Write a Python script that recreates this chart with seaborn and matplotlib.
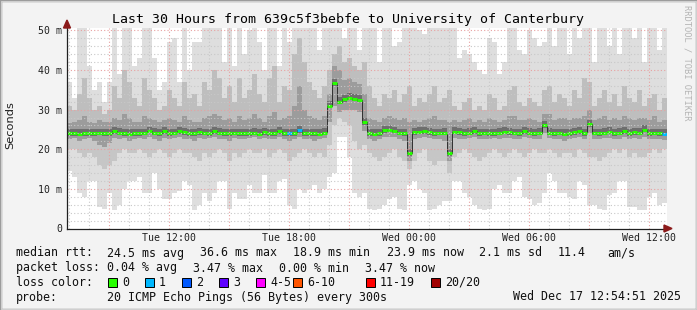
import datetime as dt
import numpy as np
import pandas as pd
import matplotlib
matplotlib.use("Agg")
import matplotlib.pyplot as plt
from matplotlib.patches import Rectangle, Polygon
import seaborn as sns

# ---------------- data (15-minute bins, 30 hours) ----------------
title = "Last 30 Hours from 639c5f3bebfe to University of Canterbury"
start_time = dt.datetime(2025, 12, 16, 6, 54, 51)
end_time = dt.datetime(2025, 12, 17, 12, 54, 51)
bin_minutes = 15

median = [24.0, 24.0, 23.9, 24.0, 24.0, 24.0, 24.1, 24.0, 24.0, 24.5, 24.2, 24.0, 23.9, 24.0, 24.0, 24.1, 24.6, 24.2, 24.0, 24.5, 24.0, 24.1, 24.5, 24.3,
          24.0, 24.0, 24.3, 24.1, 24.0, 24.5, 24.2, 24.0, 24.0, 24.1, 24.0, 24.0, 24.0, 24.2, 23.9, 24.3, 24.0, 24.0, 24.5, 24.0, 24.0, 24.0, 24.8, 24.0,
          24.0, 24.0, 23.9, 24.2, 31.0, 36.6, 32.0, 32.6, 33.0, 32.8, 32.5, 26.8, 24.0, 23.9, 24.0, 24.8, 24.9, 24.6, 24.1, 24.0, 19.0, 24.3, 24.4, 24.5,
          24.3, 24.0, 24.1, 24.2, 19.0, 24.4, 24.3, 24.0, 24.2, 24.5, 24.0, 24.1, 24.0, 24.0, 24.2, 24.4, 24.3, 24.1, 24.0, 24.5, 24.2, 24.0, 24.2, 26.0,
          24.2, 24.0, 24.1, 23.9, 24.0, 24.3, 24.5, 24.0, 26.3, 24.1, 24.0, 24.2, 24.4, 24.0, 24.2, 24.5, 24.0, 24.3, 24.2, 24.9, 24.0, 24.1, 24.0, 23.9]

loss = [0] * 44 + [1, 0, 1] + [0] * 72 + [1]

smoke_max = [37, 33, 52, 52, 41, 35, 37, 32, 37, 52, 39, 52, 52, 41, 43, 52, 52, 43, 35, 37, 47, 48, 37, 52,
             40, 47, 47, 52, 52, 52, 52, 42, 52, 41, 52, 44, 50, 52, 47, 40, 52, 52, 41, 52, 47, 52, 52, 52,
             52, 52, 45, 52, 52, 52, 52, 48, 52, 52, 45, 52, 52, 52, 42, 52, 52, 46, 47, 52, 52, 52, 50, 49,
             52, 52, 52, 52, 52, 52, 43, 45, 44, 42, 40, 39, 48, 47, 39, 42, 52, 52, 45, 44, 50, 48, 46, 47,
             52, 46, 52, 52, 44, 52, 48, 52, 52, 42, 52, 52, 46, 52, 44, 52, 52, 48, 52, 42, 52, 52, 45, 52]

smoke_high = [31, 30, 34, 38, 33, 30, 31, 29, 30, 36, 33, 40, 37, 33, 31, 38, 35, 33, 30, 31, 35, 33, 31, 37,
              33, 34, 31, 37, 35, 40, 38, 33, 36, 32, 38, 33, 35, 39, 34, 32, 38, 41, 32, 36, 35, 44, 48, 42,
              37, 35, 33, 36, 40, 44, 46, 42, 43, 41, 40, 42, 36, 33, 31, 34, 33, 35, 32, 34, 36, 31, 33, 32,
              34, 36, 32, 33, 35, 31, 30, 32, 33, 30, 31, 30, 34, 33, 30, 31, 35, 36, 32, 31, 33, 32, 31, 35,
              36, 32, 34, 33, 31, 35, 33, 38, 37, 31, 33, 35, 32, 34, 31, 36, 33, 32, 35, 31, 33, 34, 30, 33]

core_high = [26.5, 27.0, 27.5, 28.5, 27.0, 26.5, 27.5, 27.0, 27.0, 28.0, 27.5, 29.0, 28.0, 27.0, 27.0, 28.5, 28.0, 27.5, 27.0, 27.5, 28.0, 27.5, 27.0, 28.5,
             27.5, 27.0, 27.0, 28.0, 28.5, 29.0, 28.5, 27.5, 28.0, 27.0, 28.5, 27.5, 28.0, 29.0, 28.0, 27.0, 28.5, 29.5, 27.5, 28.0, 28.5, 31.0, 36.0, 30.0,
             28.5, 28.0, 27.5, 28.5, 34.0, 41.0, 40.0, 37.5, 38.0, 37.0, 36.5, 34.0, 28.0, 27.5, 27.0, 28.0, 28.5, 28.0, 27.5, 28.0, 27.0, 27.5, 27.0, 27.5,
             28.0, 28.5, 27.5, 27.5, 27.0, 27.5, 27.0, 27.5, 28.0, 27.0, 27.5, 27.0, 28.0, 27.5, 27.0, 27.5, 28.5, 28.5, 27.5, 27.5, 28.0, 27.5, 27.0, 29.0,
             29.0, 27.5, 28.0, 28.0, 27.5, 28.0, 28.0, 28.5, 30.0, 27.5, 28.0, 28.5, 27.5, 28.0, 27.5, 28.5, 28.0, 27.5, 28.0, 28.0, 27.5, 28.5, 27.0, 27.5]

core_low = [22.5, 22.8, 22.0, 22.5, 22.8, 22.0, 21.0, 20.5, 21.5, 22.8, 22.5, 22.8, 22.0, 22.5, 22.8, 22.5, 23.0, 22.5, 22.0, 22.8, 22.5, 22.8, 23.0, 22.6,
            22.6, 22.0, 22.8, 22.5, 22.8, 23.0, 22.6, 22.5, 22.0, 22.8, 22.5, 22.6, 22.8, 23.0, 22.5, 22.8, 22.6, 22.5, 23.0, 22.6, 22.0, 22.5, 23.0, 22.5,
            22.5, 22.0, 22.6, 22.8, 27.0, 31.0, 29.5, 30.0, 29.8, 30.0, 29.5, 24.5, 22.5, 22.0, 22.5, 23.0, 23.2, 23.0, 22.6, 22.0, 17.0, 22.5, 22.8, 23.0,
            22.8, 22.5, 22.6, 22.0, 17.0, 22.8, 22.6, 22.5, 22.8, 23.0, 22.5, 22.6, 22.5, 22.8, 22.6, 22.8, 22.8, 22.5, 22.6, 23.0, 22.8, 22.5, 22.6, 24.0,
            22.8, 22.5, 22.6, 22.0, 22.5, 22.8, 23.0, 22.5, 24.0, 22.6, 22.5, 22.8, 22.8, 22.5, 22.6, 23.0, 22.5, 22.8, 22.6, 23.2, 22.5, 22.6, 22.5, 22.4]

smoke_low = [20, 20, 19, 18, 19, 18, 16, 15, 16, 17, 19, 20, 19, 19, 20, 19, 18, 19, 20, 19, 18, 19, 20, 19,
             19, 18, 17, 19, 18, 19, 20, 19, 17, 19, 18, 19, 20, 19, 19, 20, 18, 19, 20, 19, 17, 18, 19, 20,
             19, 18, 19, 18, 21, 26, 28, 27, 26, 22, 20, 21, 19, 18, 17, 18, 19, 20, 18, 17, 15, 17, 19, 20,
             17, 16, 17, 17, 14, 18, 19, 20, 19, 18, 17, 18, 19, 20, 19, 18, 19, 20, 19, 18, 19, 20, 19, 19,
             20, 19, 18, 19, 19, 18, 20, 19, 18, 18, 17, 18, 19, 20, 19, 20, 18, 19, 18, 18, 19, 20, 19, 20]

smoke_min = [14.5, 13, 9, 8, 12, 12, 5.5, 5, 9, 4.6, 6, 10, 12, 12, 13, 9, 9, 14, 10, 7.5, 7.5, 9, 9.5, 12,
             11, 4.7, 6, 9, 7, 9, 12, 12, 5, 9, 7.5, 7.5, 11, 9, 9, 13.5, 9, 9, 12, 12.5, 6, 5, 10, 9,
             10, 11, 9, 10, 13, 14, 23, 23, 18, 9, 8, 9, 5, 4.7, 5, 6, 7.5, 8, 5, 4.7, 11, 12, 10, 9,
             4.7, 5, 6, 7, 7, 12, 12, 9, 8, 6, 5, 4.7, 5, 10, 11, 9, 9, 12, 13, 8, 7.5, 6, 6.5, 9,
             14, 12, 9, 9, 8, 7.5, 12, 11, 6, 6, 4.8, 4.6, 8.5, 9, 12, 12, 5.5, 5.5, 4.6, 4.7, 8, 9, 6, 6.5]

tick_times = [dt.datetime(2025, 12, 16, 12), dt.datetime(2025, 12, 16, 18),
              dt.datetime(2025, 12, 17, 0), dt.datetime(2025, 12, 17, 6),
              dt.datetime(2025, 12, 17, 12)]
tick_labels = ["Tue 12:00", "Tue 18:00", "Wed 00:00", "Wed 06:00", "Wed 12:00"]
y_ticks = [0, 10, 20, 30, 40, 50]
y_tick_labels = ["0", "10 m", "20 m", "30 m", "40 m", "50 m"]

loss_labels = ["0", "1", "2", "3", "4-5", "6-10", "11-19", "20/20"]
loss_colors = ["#26ff00", "#00b8ff", "#0059ff", "#5e00ff", "#ff00ff", "#ff5500", "#ff0000", "#a10000"]

stats_rtt = ["24.5 ms avg", "36.6 ms max", "18.9 ms min", "23.9 ms now", "2.1 ms sd", "11.4", "am/s"]
stats_loss = ["0.04 % avg", "3.47 % max", "0.00 % min", "3.47 % now"]
probe_text = "20 ICMP Echo Pings (56 Bytes) every 300s"
stamp_text = "Wed Dec 17 12:54:51 2025"

# ---------------- figure ----------------
sns.set_style("white")
W, H = 697, 310
fig = plt.figure(figsize=(W / 100, H / 100), dpi=100)
fig.patch.set_facecolor("#f3f3f3")
mono = "DejaVu Sans Mono"

def fx(px):
    return px / W

def fy(py):
    return 1 - py / H

# frame (3D look)
fig.patches.append(Rectangle((0, 0), 1, 1, transform=fig.transFigure, fill=False,
                             edgecolor="#9a9a9a", lw=2.5, zorder=0))
fig.patches.append(Rectangle((fx(1), fy(309)), fx(695), 308 / H, transform=fig.transFigure,
                             fill=False, edgecolor="#cfcfcf", lw=0.8, zorder=0))

ax_left, ax_right, ax_bot, ax_top = 67, 667, 228.5, 28
ax = fig.add_axes([fx(ax_left), fy(ax_bot), fx(ax_right - ax_left), (ax_bot - ax_top) / H])
ax.set_facecolor("white")

total_h = (end_time - start_time).total_seconds() / 3600.0
n = len(median)
edges = np.arange(n + 1) * bin_minutes / 60.0

def ext(a):
    a = list(a)
    return np.array(a + [a[-1]])

layers = [
    (smoke_min, smoke_low, "#dedede"),
    (smoke_high, smoke_max, "#dedede"),
    (smoke_low, core_low, "#c6c6c6"),
    (core_high, smoke_high, "#bebebe"),
    (core_low, core_high, "#9c9c9c"),
]
for lo, hi, col in layers:
    ax.fill_between(edges, ext(lo), ext(hi), step="post", color=col, lw=0, zorder=1)

# darker core just around the median
ax.fill_between(edges, ext(median) - 0.6, ext(median) + 1.1, step="post", color="#6e6e6e", lw=0, zorder=1.2)

# median: thin dark step line + loss-coloured segments
df = pd.DataFrame({"t": edges, "rtt": ext(median)})
sns.lineplot(data=df, x="t", y="rtt", drawstyle="steps-post", color="#303030", lw=0.7,
             ax=ax, zorder=3, legend=False)
for i in range(n):
    ax.hlines(median[i], edges[i], edges[i + 1], colors=loss_colors[loss[i]], lw=2.2, zorder=4)

ax.set_xlim(0, total_h)
ax.set_ylim(0, 50.6)

# grid
tick_h = [(t - start_time).total_seconds() / 3600.0 for t in tick_times]
first_hour = dt.datetime(2025, 12, 16, 7)
for k in range(0, 31):
    h = (first_hour - start_time).total_seconds() / 3600.0 + k
    if h >= total_h:
        break
    hr = (first_hour + dt.timedelta(hours=k)).hour
    major = hr % 3 == 0
    ax.axvline(h, color="#e8a0a0" if major else "#c8c8c8", lw=0.8,
               ls=(0, (1, 2)), zorder=5)
for v in np.arange(2, 51, 2):
    major = v % 10 == 0
    ax.axhline(v, color="#e8a0a0" if major else "#c8c8c8", lw=0.8,
               ls=(0, (1, 2)), zorder=5)

for s in ["top", "right"]:
    ax.spines[s].set_visible(False)
for s in ["left", "bottom"]:
    ax.spines[s].set_color("#202020")
    ax.spines[s].set_linewidth(0.9)
    ax.spines[s].set_zorder(6)

ax.set_xticks(tick_h)
ax.set_xticklabels(tick_labels, fontsize=7.1, family=mono, color="#202020")
ax.set_yticks(y_ticks)
ax.set_yticklabels(y_tick_labels, fontsize=7.1, family=mono, color="#202020")
ax.set_yticks(np.arange(2, 50, 2), minor=True)
ax.set_xticks([(first_hour - start_time).total_seconds() / 3600.0 + k for k in range(30)], minor=True)
ax.tick_params(axis="both", which="major", length=3, width=0.8, color="#404040", pad=2, direction="inout")
ax.tick_params(axis="both", which="minor", length=2, width=0.6, color="#808080", direction="out")
ax.set_xlabel("")
ax.set_ylabel("")

# arrows
fig.patches.append(Polygon([[fx(664), fy(225)], [fx(664), fy(232)], [fx(672), fy(228.5)]],
                           closed=True, transform=fig.transFigure, color="#8b1a1a", zorder=10))
fig.lines.append(plt.Line2D([fx(667), fx(665)], [fy(228.5), fy(228.5)], transform=fig.transFigure,
                            color="#202020", lw=0.9))
fig.patches.append(Polygon([[fx(63.5), fy(28)], [fx(70.5), fy(28)], [fx(67), fy(20)]],
                           closed=True, transform=fig.transFigure, color="#8b1a1a", zorder=10))

# texts
fig.text(fx(348), fy(19), title, ha="center", va="center", fontsize=9.5, family=mono, color="#000000")
fig.text(fx(10.5), fy(125), "Seconds", rotation=90, ha="center", va="center", fontsize=8.2,
         family="DejaVu Sans", color="#202020")
fig.text(fx(687), fy(5), "RRDTOOL / TOBI OETIKER", rotation=-90, ha="center", va="top",
         fontsize=6.3, family=mono, color="#b4b4b4")

fs = 8.4
tc = "#101010"
y1, y2, y3, y4 = 253, 268, 282, 297
fig.text(fx(16), fy(y1), "median rtt:", fontsize=fs, family=mono, va="center", color=tc)
for xp, s in zip([107, 200, 293, 387, 479, 558, 607], stats_rtt):
    fig.text(fx(xp), fy(y1), s, fontsize=fs, family=mono, va="center", color=tc)
fig.text(fx(16), fy(y2), "packet loss:", fontsize=fs, family=mono, va="center", color=tc)
for xp, s in zip([107, 193, 279, 365], stats_loss):
    fig.text(fx(xp), fy(y2), s, fontsize=fs, family=mono, va="center", color=tc)
fig.text(fx(16), fy(y3), "loss color:", fontsize=fs, family=mono, va="center", color=tc)
box_x = [108, 145, 182, 219, 256, 293, 366, 431]
for bx, lab, col in zip(box_x, loss_labels, loss_colors):
    fig.patches.append(Rectangle((fx(bx), fy(y3 + 4.5)), fx(9), 9 / H, transform=fig.transFigure,
                                 facecolor=col, edgecolor="#000000", lw=0.7, zorder=10))
    fig.text(fx(bx + 14), fy(y3), lab, fontsize=fs, family=mono, va="center", color=tc)
fig.text(fx(16), fy(y4), "probe:", fontsize=fs, family=mono, va="center", color=tc)
fig.text(fx(107), fy(y4), probe_text, fontsize=fs, family=mono, va="center", color=tc)
fig.text(fx(513), fy(y4), stamp_text, fontsize=fs, family=mono, va="center", color=tc)

fig.savefig("out.png", dpi=100, facecolor=fig.get_facecolor())
